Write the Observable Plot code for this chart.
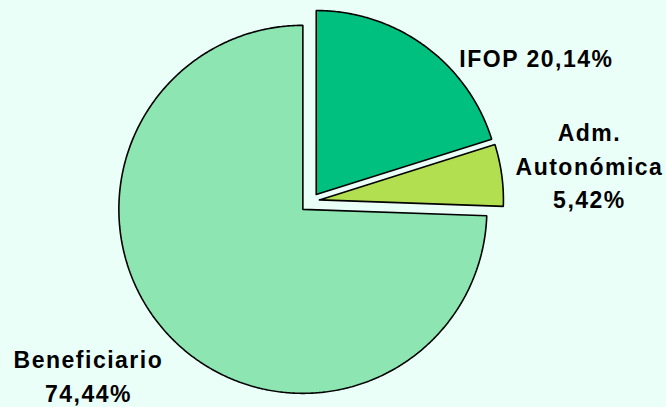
<!DOCTYPE html>
<html>
<head>
<meta charset="utf-8">
<script src="https://cdn.jsdelivr.net/npm/d3@7"></script>
<script src="https://cdn.jsdelivr.net/npm/@observablehq/plot@0.6"></script>
<style>
  html, body { margin: 0; padding: 0; background: #EAFFF8; }
  #chart svg { display: block; background: #EAFFF8; }
</style>
</head>
<body>
<div id="chart"></div>
<script>
// ---- data ----
const categories = ["IFOP", "Adm. Autonómica", "Beneficiario"];
const values = [20.14, 5.42, 74.44];
// label layout text (how each name breaks across lines)
const labelNames = ["IFOP", "Adm.\nAutonómica", "Beneficiario"];
const labelSeparators = [" ", "\n", "\n"];

// ---- style ----
const W = 666, H = 407;
const center = {x: 311, y: 200.5};
const radius = 184;
const sliceStyle = {
  "IFOP":            {fill: "#00C080", explode: 8,  labelDist: 267.6, labelShift: 20.95},
  "Adm. Autonómica": {fill: "#B2DF50", explode: 8,  labelDist: 280.4, labelShift: 0.18},
  "Beneficiario":    {fill: "#8DE6B2", explode: 12, labelDist: 282.3, labelShift: 6.2}
};

const rows = categories.map((c, i) => ({
  name: c, value: values[i],
  label: labelNames[i] + labelSeparators[i] + values[i].toFixed(2).replace(".", ",") + "%"
}));
const arcs = d3.pie().sort(null).value(d => d.value)(rows);

const deg = Math.PI / 180;
function slicePoints(a) {
  const st = sliceStyle[a.data.name];
  const mid = (a.startAngle + a.endAngle) / 2;
  const vx = center.x + st.explode * Math.sin(mid);
  const vy = center.y - st.explode * Math.cos(mid);
  const pts = [{x: vx, y: vy}];
  const n = Math.max(2, Math.ceil((a.endAngle - a.startAngle) / (0.5 * deg)));
  for (let k = 0; k <= n; k++) {
    const t = a.startAngle + (a.endAngle - a.startAngle) * k / n;
    pts.push({x: vx + radius * Math.sin(t), y: vy - radius * Math.cos(t)});
  }
  pts.push({x: vx, y: vy});
  return pts;
}

const labelData = arcs.map(a => {
  const st = sliceStyle[a.data.name];
  const mid = (a.startAngle + a.endAngle) / 2 + st.labelShift * deg;
  return {
    x: center.x + st.labelDist * Math.sin(mid),
    y: center.y - st.labelDist * Math.cos(mid),
    text: a.data.label
  };
});

const sliceOrder = ["Beneficiario", "IFOP", "Adm. Autonómica"];
const sliceMarks = sliceOrder.map(name => {
  const a = arcs.find(d => d.data.name === name);
  return Plot.line(slicePoints(a), {
    x: "x", y: "y",
    fill: sliceStyle[name].fill,
    stroke: "#000",
    strokeWidth: 1.6,
    strokeLinejoin: "miter",
    curve: "linear"
  });
});

const chart = Plot.plot({
  width: W,
  height: H,
  margin: 0,
  style: {background: "#EAFFF8", overflow: "visible"},
  x: {domain: [0, W], range: [0, W], axis: null},
  y: {domain: [0, H], range: [0, H], axis: null},
  marks: [
    ...sliceMarks,
    Plot.text(labelData, {
      x: "x", y: "y", text: "text",
      fontSize: 23,
      fontWeight: "bold",
      fontFamily: "Liberation Sans, Arial, sans-serif",
      fill: "#000",
      lineHeight: 1.46,
      textAnchor: "middle",
      lineAnchor: "middle"
    })
  ]
});
chart.querySelectorAll("text").forEach(t => t.setAttribute("letter-spacing", "1.5"));
document.getElementById("chart").appendChild(chart);
</script>
</body>
</html>
